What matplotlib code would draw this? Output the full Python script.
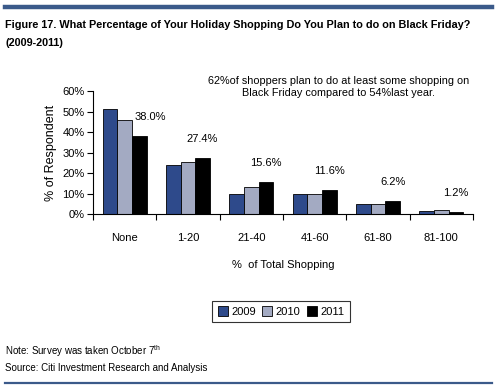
import matplotlib.pyplot as plt
import matplotlib as mpl
import numpy as np

mpl.rcParams['font.family'] = ['Liberation Sans', 'DejaVu Sans']

categories = ['None', '1-20', '21-40', '41-60', '61-80', '81-100']
years = ['2009', '2010', '2011']
values_2009 = [51.0, 24.0, 9.7, 9.7, 4.9, 1.6]
values_2010 = [46.0, 25.4, 13.2, 9.7, 4.9, 2.1]
values_2011 = [38.0, 27.4, 15.6, 11.6, 6.2, 1.2]
colors = ['#2E4A8B', '#A3AAC2', '#000000']

W, H = 499, 388
fig = plt.figure(figsize=(W / 100, H / 100), dpi=100)

# blue rules at top and bottom
fig.add_artist(plt.Line2D([5 / W, 492 / W], [1 - 7 / H, 1 - 7 / H], color='#3B5A8A', lw=3.2))
fig.add_artist(plt.Line2D([5 / W, 492 / W], [1 - 383 / H, 1 - 383 / H], color='#3B5A8A', lw=1.6))

fig.text(5 / W, 1 - 25 / H, 'Figure 17. What Percentage of Your Holiday Shopping Do You Plan to do on Black Friday?',
         fontsize=7.8, fontweight='bold', va='center', ha='left')
fig.text(5 / W, 1 - 43 / H, '(2009-2011)', fontsize=7.8, fontweight='bold', va='center', ha='left')

ax = fig.add_axes([93 / W, 1 - 214 / H, 380 / W, 123 / H])

x = np.arange(len(categories))
width = 0.23
series = [values_2009, values_2010, values_2011]
for i, (vals, year) in enumerate(zip(series, years)):
    ax.bar(x + (i - 1) * width, vals, width=width, color=colors[i], edgecolor='black',
           linewidth=0.6, label=year)

# first label sits off to the right so it clears the 2010 bar
label_dx = [8, 0, 0, 0, 0, 0]
for xi, v, dx in zip(x, values_2011, label_dx):
    ax.annotate(f'{v:.1f}%', (xi + width, v), xytext=(dx, 10), textcoords='offset points',
                ha='center', va='bottom', fontsize=8)

ax.set_xlim(-0.5, len(categories) - 0.5)
ax.set_ylim(0, 60)
ax.set_yticks(np.arange(0, 61, 10))
ax.set_yticklabels([f'{t}%' for t in range(0, 61, 10)], fontsize=8)
ax.set_xticks(np.arange(-0.5, len(categories), 1.0))
ax.set_xticklabels([])
ax.set_xticks(x, minor=True)
ax.set_xticklabels(categories, minor=True, fontsize=8)
ax.tick_params(axis='x', which='minor', length=0, pad=14)
ax.tick_params(axis='x', which='major', length=4, direction='out')
ax.tick_params(axis='y', length=4, pad=2)
for s in ['top', 'right']:
    ax.spines[s].set_visible(False)
ax.set_ylabel('% of Respondent', fontsize=9, labelpad=4)
ax.set_xlabel('%  of Total Shopping', fontsize=8, labelpad=12)

fig.text(339 / W, 1 - 87 / H, '62%of shoppers plan to do at least some shopping on\nBlack Friday compared to 54%last year.',
         fontsize=7.8, ha='center', va='center', linespacing=1.35)

leg = ax.legend(loc='center', bbox_to_anchor=(281 / W, 1 - 311.5 / H), bbox_transform=fig.transFigure,
                ncols=3, frameon=True, fancybox=False, edgecolor='black', fontsize=8,
                handlelength=0.9, handleheight=0.9, handletextpad=0.3, columnspacing=0.6,
                borderpad=0.5)
leg.get_frame().set_linewidth(0.8)

fig.text(5 / W, 1 - 351 / H, 'Note: Survey was taken October 7$^{\\mathregular{th}}$', fontsize=7, va='center')
fig.text(5 / W, 1 - 368 / H, 'Source: Citi Investment Research and Analysis', fontsize=7, va='center')

fig.savefig('out.png', dpi=100)
